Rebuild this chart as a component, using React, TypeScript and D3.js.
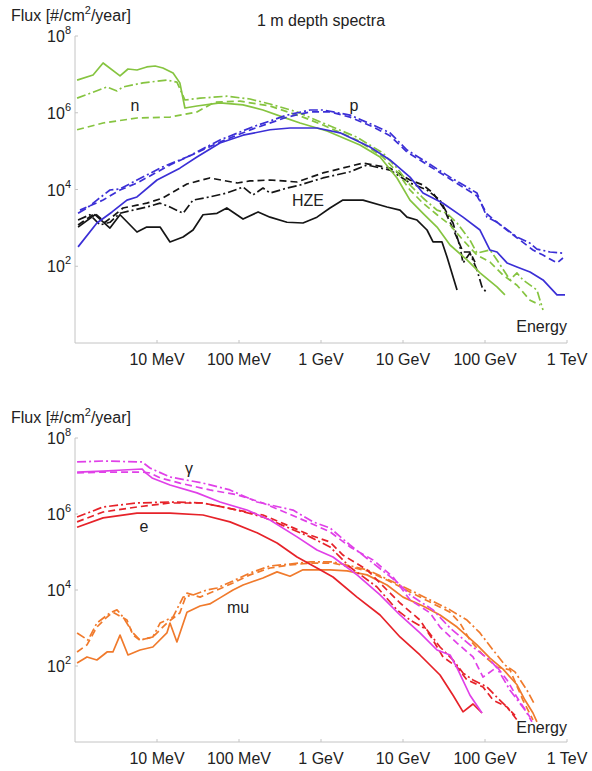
import React from 'react';
import * as d3 from 'd3';

type Pt = [number, number];

// ---- axis ticks ----
const xTickValues = [10, 100, 1e3, 1e4, 1e5, 1e6];
const xTickLabels = ['10 MeV', '100 MeV', '1 GeV', '10 GeV', '100 GeV', '1 TeV'];
const yTickValues = [1e2, 1e4, 1e6, 1e8];
const yTickExponents = ['2', '4', '6', '8'];

// ---- top panel: energy [MeV], flux [#/cm2/year] ----
const neutronSolid: Pt[] = [[1.06,7.1e6],[1.66,9.6e6],[2.2,1.98e7],[3.54,9.1e6],[4.43,1.38e7],[5.7,1.3e7],[7.5,1.56e7],[9.5,1.65e7],[11.8,1.47e7],[15.7,1.09e7],[19,6.0e6],[21.9,1.33e6],[30.7,1.5e6],[58.6,1.8e6],[112,1.6e6],[196,1.18e6],[344,7.7e5],[555,5.4e5],[1183,3.35e5],[2990,1.45e5],[5250,7.0e4],[8450,2.0e4],[12170,5.3e3],[17540,2.4e3],[26000,1.05e3],[37450,358],[60300,146],[86900,67],[140000,29],[175000,18]];
const neutronDashed: Pt[] = [[1.06,3.6e5],[2.2,5.4e5],[5.7,7.3e5],[14.4,7.7e5],[30.7,1.05e6],[51,1.9e6],[103,2.0e6],[239,1.5e6],[603,7.7e5],[1057,4.8e5],[2750,1.95e5],[5700,7.0e4],[8450,2.9e4],[12170,9.7e3],[17540,4.4e3],[26000,2.2e3],[37450,1.19e3],[53950,480],[79800,196],[115000,129],[166000,59],[245600,32],[354000,13],[469000,9.8]];
const neutronDashDot: Pt[] = [[1.06,2.4e6],[2.46,4.7e6],[3.25,3.7e6],[3.85,4.7e6],[6.75,6.0e6],[13.2,7.1e6],[17.5,6.3e6],[21.9,2.15e6],[33.5,2.4e6],[71,2.7e6],[136,2.28e6],[239,1.69e6],[510,1.05e6],[1057,5.4e5],[2750,2.3e5],[5700,8.9e4],[8450,3.6e4],[12170,1.31e4],[17540,6.0e3],[26000,2.9e3],[34430,2.4e3],[45600,1.34e3],[65600,480],[79800,220],[115000,265],[140000,146],[201800,44],[245600,67],[290000,44],[430000,24],[509700,7.2]];

const protonSolid: Pt[] = [[1.09,320],[1.85,1.34e3],[2.83,2.6e3],[4.3,5.3e3],[5.7,6.4e3],[10,1.77e4],[19,3.6e4],[30.7,7.0e4],[58.6,1.63e5],[112,2.6e5],[239,3.6e5],[419,4.0e5],[893,4.0e5],[1706,3.0e5],[3960,1.28e5],[6940,5.9e4],[12170,2.1e4],[17540,8.1e3],[30770,4.4e3],[53950,1.9e3],[86900,880],[115000,265],[140000,235],[185500,122],[245600,96],[354000,71],[509700,44],[755000,18],[946000,18]];
const protonDashed: Pt[] = [[1.15,2.9e3],[2.2,5.3e3],[3.54,9.7e3],[5.7,1.48e4],[14.4,4.35e4],[58.6,1.73e5],[148,3.8e5],[385,7.7e5],[735,1.05e6],[1288,1.05e6],[2258,7.7e5],[4300,4.3e5],[6940,2.5e5],[11190,9.5e4],[17540,5.2e4],[37450,1.88e4],[79800,6.8e3],[105700,2.3e3],[166000,1.05e3],[267200,480],[384600,265],[509700,196],[755000,122],[893000,164]];
const protonDashDot: Pt[] = [[1.09,2.4e3],[1.4,3.3e3],[1.85,5.3e3],[2.67,9.7e3],[3.54,1.03e4],[5.7,1.77e4],[11.8,3.9e4],[23.2,7.0e4],[58.6,1.95e5],[148,4.3e5],[385,8.7e5],[735,1.18e6],[1057,1.18e6],[2258,8.7e5],[4300,4.8e5],[6940,3.0e5],[11190,1.07e5],[17540,5.9e4],[37450,2.1e4],[79800,8.1e3],[105700,1.9e3],[140000,1.4e3],[245600,580],[354000,400],[430000,280],[621000,235],[893000,220]];

const hzeSolid: Pt[] = [[1.09,1.05e3],[1.75,2.2e3],[2.67,990],[3.54,2.2e3],[5.7,780],[7.5,1.05e3],[10.9,1.05e3],[14.4,430],[20.8,580],[27.5,880],[36.4,2.2e3],[54,2.4e3],[71,3.3e3],[112,1.7e3],[171,2.6e3],[239,1.9e3],[385,1.4e3],[603,1.34e3],[893,1.9e3],[1288,3.3e3],[1850,5.3e3],[3250,5.3e3],[6380,3.5e3],[9190,2.9e3],[11190,1.9e3],[14830,1.6e3],[19630,880],[23230,430],[29900,430],[34430,174],[45600,24]];
const hzeDashed: Pt[] = [[1.09,1.19e3],[1.75,2.4e3],[2.32,1.4e3],[3.07,2.2e3],[3.85,3.3e3],[5.7,3.9e3],[7.5,4.4e3],[11.8,6.0e3],[23.2,1.39e4],[44,2.0e4],[95,1.48e4],[136,1.67e4],[239,1.77e4],[510,1.57e4],[1057,2.7e4],[3250,4.9e4],[6940,3.6e4],[12170,1.77e4],[17540,1.31e4],[23230,8.1e3],[30770,3.5e3],[37450,1.4e3],[45600,545],[53950,235],[65600,235],[75500,129]];
const hzeDashDot: Pt[] = [[1.09,1.6e3],[1.52,2.2e3],[2.02,1.19e3],[2.67,1.4e3],[3.54,2.4e3],[5.1,2.9e3],[7.5,3.5e3],[10.9,4.4e3],[14.4,3.5e3],[20.8,2.4e3],[27.5,5.3e3],[44,6.4e3],[71,8.1e3],[112,1.16e4],[148,7.2e3],[196,1.09e4],[239,8.1e3],[385,1.09e4],[555,1.31e4],[1057,2.0e4],[2258,2.9e4],[3640,4.35e4],[6940,3.2e4],[12170,1.48e4],[19630,9.7e3],[28270,5.3e3],[34430,2.4e3],[40740,1.34e3],[49600,320],[53950,122],[65600,220],[79800,80],[91900,29],[105700,20]];

// ---- bottom panel ----
const gammaSolid: Pt[] = [[1.06,1.27e7],[2.2,1.35e7],[3.85,1.44e7],[6.6,1.53e7],[7.1,1.27e7],[8.7,8.9e6],[14.4,5.8e6],[30.7,3.6e6],[58.6,2.07e6],[125,1.27e6],[239,6.95e5],[510,2.5e5],[893,1.13e5],[1400,7.4e4],[2750,2.5e4],[5250,7.4e3],[9190,2.2e3],[16100,740],[26000,264],[37450,195],[45600,89],[65600,17],[91900,5.8]];
const gammaDashed: Pt[] = [[1.06,1.2e7],[2.2,1.27e7],[6.6,1.27e7],[8.2,1.2e7],[10.9,8.9e6],[19,6.5e6],[44,4.3e6],[95,3.2e6],[196,1.95e6],[385,1.06e6],[735,5.8e5],[1288,3.4e5],[2258,1.36e5],[4300,6.2e4],[7550,2.2e4],[12170,5.5e3],[21350,2.5e3],[28270,1.06e3],[45600,400],[71400,173],[94600,51],[140000,94],[185500,43],[245600,15],[354000,4.5]];
const gammaDashDot: Pt[] = [[1.06,2.34e7],[2.2,2.48e7],[6.6,2.34e7],[8.2,1.62e7],[14.4,9.4e6],[36.4,6.5e6],[77.6,4.3e6],[166,2.07e6],[456,1.27e6],[798,6.2e5],[1288,4.3e5],[2258,1.53e5],[4300,5.1e4],[8450,1.62e4],[12170,7.4e3],[23230,3.0e3],[37450,1.0e3],[65600,360],[115000,144],[140000,89],[201800,23],[307000,7],[374000,3.4]];

const electronSolid: Pt[] = [[1.06,4.5e5],[2.2,7.9e5],[5.7,1.06e6],[14.4,1.06e6],[36.4,9.4e5],[77.6,6.2e5],[166,3.2e5],[291,1.73e5],[510,7.4e4],[893,3.8e4],[1400,2.2e4],[2750,6.5e3],[5250,2.2e3],[9190,580],[16100,195],[28270,58],[40740,17],[53950,6.2],[71400,10],[91900,5.8]];
const electronDashed: Pt[] = [[1.06,6.2e5],[2.2,1.13e6],[5.7,1.53e6],[14.4,1.95e6],[36.4,1.95e6],[95,1.27e6],[196,9.4e5],[385,5.1e5],[735,2.8e5],[1288,1.83e5],[1850,8.3e4],[3640,3.4e4],[6380,1.0e4],[9190,4.55e3],[16100,1.62e3],[23230,480],[30770,173],[45600,94],[60300,43],[94600,28],[125300,12.7],[185500,8.3],[245600,3.8]];
const electronDashDot: Pt[] = [[1.06,8.3e5],[2.2,1.53e6],[5.7,1.95e6],[14.4,2.07e6],[36.4,1.95e6],[95,1.27e6],[196,8.3e5],[385,4.5e5],[735,2.5e5],[1288,1.36e5],[2258,4.0e4],[4820,1.2e4],[8450,3.0e3],[12170,1.62e3],[19630,890],[28270,316],[40740,144],[53950,65],[71400,43],[105700,28],[140000,15],[185500,8.3],[232000,5]];

const muonSolid: Pt[] = [[1.06,120],[1.4,173],[1.85,144],[2.46,234],[2.9,234],[3.54,650],[4.43,195],[6.2,264],[8.9,316],[13.2,740],[14.4,1.35e3],[17.5,430],[23.2,2.6e3],[33.5,3.8e3],[44,4.3e3],[58.6,6.2e3],[84.5,1.0e4],[112,1.35e4],[196,2.07e4],[291,3.0e4],[419,2.3e4],[603,3.4e4],[1288,3.4e4],[2075,3.2e4],[3640,2.5e4],[6380,1.35e4],[10000,6.5e3],[17540,3.8e3],[28270,2.2e3],[45600,1.06e3],[79800,360],[115000,162],[166000,83],[245600,32],[307000,12.7],[384600,5.8],[430000,3.4]];
const muonDashed: Pt[] = [[1.06,234],[1.4,360],[1.85,1.06e3],[2.46,1.95e3],[2.9,2.6e3],[3.34,2.2e3],[4.3,1.62e3],[5.1,650],[6.2,480],[8.9,580],[13.2,1.35e3],[19,2.5e3],[23.2,8.3e3],[33.5,6.5e3],[54,1.0e4],[84.5,1.53e4],[136,2.5e4],[239,3.8e4],[419,4.55e4],[735,5.1e4],[1400,5.1e4],[3640,3.2e4],[6380,1.83e4],[12170,8.9e3],[21350,4.8e3],[37450,2.6e3],[49600,1.35e3],[65600,480],[94600,195],[140000,94],[201800,79],[290000,12.7],[384600,3.8]];
const muonDashDot: Pt[] = [[1.06,740],[1.44,480],[1.85,1.35e3],[2.67,2.5e3],[3.25,3.0e3],[3.85,1.95e3],[5.1,740],[6.2,480],[8.9,580],[10.9,1.35e3],[15.7,1.95e3],[20.8,6.5e3],[27.5,7.4e3],[40.7,1.0e4],[54,1.13e4],[84.5,1.73e4],[136,2.8e4],[239,4.3e4],[419,4.8e4],[735,5.5e4],[1400,5.5e4],[3640,3.4e4],[6380,1.95e4],[12170,1.0e4],[21350,5.5e3],[37450,3.0e3],[60300,1.62e3],[86900,740],[125300,264],[175000,106],[232000,70],[325000,23],[407000,9.4]];

// ---- styles ----
const GREEN = '#86c440';
const BLUE = '#3b2fd6';
const BLACK = '#151515';
const MAGENTA = '#e040e8';
const RED = '#e62229';
const ORANGE = '#f07a2c';
const DASH = '7,4';
const DASHDOT = '9,3,2,3';
const AXIS = '#c4c4c4';
const FONT = '"Liberation Sans", Arial, Helvetica, sans-serif';

interface Series { data: Pt[]; color: string; dash: string | null }

const topSeries: Series[] = [
  { data: hzeSolid, color: BLACK, dash: null },
  { data: hzeDashed, color: BLACK, dash: DASH },
  { data: hzeDashDot, color: BLACK, dash: DASHDOT },
  { data: neutronSolid, color: GREEN, dash: null },
  { data: neutronDashed, color: GREEN, dash: DASH },
  { data: neutronDashDot, color: GREEN, dash: DASHDOT },
  { data: protonSolid, color: BLUE, dash: null },
  { data: protonDashed, color: BLUE, dash: DASH },
  { data: protonDashDot, color: BLUE, dash: DASHDOT },
];

const bottomSeries: Series[] = [
  { data: muonSolid, color: ORANGE, dash: null },
  { data: muonDashed, color: ORANGE, dash: DASH },
  { data: muonDashDot, color: ORANGE, dash: DASHDOT },
  { data: electronSolid, color: RED, dash: null },
  { data: electronDashed, color: RED, dash: DASH },
  { data: electronDashDot, color: RED, dash: DASHDOT },
  { data: gammaSolid, color: MAGENTA, dash: null },
  { data: gammaDashed, color: MAGENTA, dash: DASH },
  { data: gammaDashDot, color: MAGENTA, dash: DASHDOT },
];

interface Label { text: string; x: number; y: number; anchor?: string }

interface PanelProps {
  yTop: number;
  yBottom: number;
  series: Series[];
  labels: Label[];
  title?: string;
}

const X0 = 75;
const X1 = 567;

function Panel({ yTop, yBottom, series, labels, title }: PanelProps) {
  const x = d3.scaleLog().domain([1, 1e6]).range([X0, X1]);
  const y = d3.scaleLog().domain([1, 1e8]).range([yBottom, yTop]);
  const line = d3.line<Pt>().x(d => x(d[0])).y(d => y(d[1]));
  return (
    <g>
      {/* axes */}
      <line x1={X0} x2={X0} y1={yTop} y2={yBottom} stroke={AXIS} strokeWidth={1} />
      <line x1={X0} x2={X1} y1={yBottom} y2={yBottom} stroke={AXIS} strokeWidth={1} />
      {xTickValues.map((v, i) => (
        <g key={'xt' + i}>
          <line x1={x(v)} x2={x(v)} y1={yBottom} y2={yBottom - 3} stroke={AXIS} />
          <text x={x(v)} y={yBottom + 22} textAnchor="middle" fontSize={16} fill="#222" fontFamily={FONT}>
            {xTickLabels[i]}
          </text>
        </g>
      ))}
      {yTickValues.map((v, i) => (
        <g key={'yt' + i}>
          <line x1={X0} x2={X0 + 3} y1={y(v)} y2={y(v)} stroke={AXIS} />
          <text x={71} y={y(v) + 6} textAnchor="end" fontSize={16} fill="#222" fontFamily={FONT}>
            10<tspan dy={-8} fontSize={11}>{yTickExponents[i]}</tspan>
          </text>
        </g>
      ))}
      {/* data */}
      {series.map((s, i) => (
        <path
          key={'s' + i}
          d={line(s.data) || ''}
          fill="none"
          stroke={s.color}
          strokeWidth={1.7}
          strokeDasharray={s.dash || undefined}
          strokeLinejoin="round"
        />
      ))}
      {/* y-axis title */}
      <text x={11} y={yTop - 15} fontSize={16} fill="#222" fontFamily={FONT}>
        Flux [#/cm<tspan dy={-7} fontSize={11}>2</tspan><tspan dy={7}>/year]</tspan>
      </text>
      {title && (
        <text x={321} y={yTop - 10} textAnchor="middle" fontSize={16} fill="#222" fontFamily={FONT}>
          {title}
        </text>
      )}
      {labels.map((l, i) => (
        <text key={'l' + i} x={l.x} y={l.y} textAnchor={l.anchor || 'middle'} fontSize={16} fill="#222" fontFamily={FONT}>
          {l.text}
        </text>
      ))}
    </g>
  );
}

export default function App() {
  return (
    <svg
      width={592}
      height={771}
      viewBox="0 0 592 771"
      style={{ position: 'absolute', left: 0, top: 0, background: '#fff' }}
    >
      <rect x={0} y={0} width={592} height={771} fill="#fff" />
      <Panel
        yTop={36}
        yBottom={343}
        series={topSeries}
        title="1 m depth spectra"
        labels={[
          { text: 'n', x: 135, y: 111 },
          { text: 'p', x: 354, y: 111 },
          { text: 'HZE', x: 308, y: 206 },
          { text: 'Energy', x: 567, y: 332, anchor: 'end' },
        ]}
      />
      <Panel
        yTop={438}
        yBottom={742}
        series={bottomSeries}
        labels={[
          { text: 'γ', x: 189, y: 474 },
          { text: 'e', x: 144, y: 532 },
          { text: 'mu', x: 238, y: 613 },
          { text: 'Energy', x: 567, y: 733, anchor: 'end' },
        ]}
      />
    </svg>
  );
}
